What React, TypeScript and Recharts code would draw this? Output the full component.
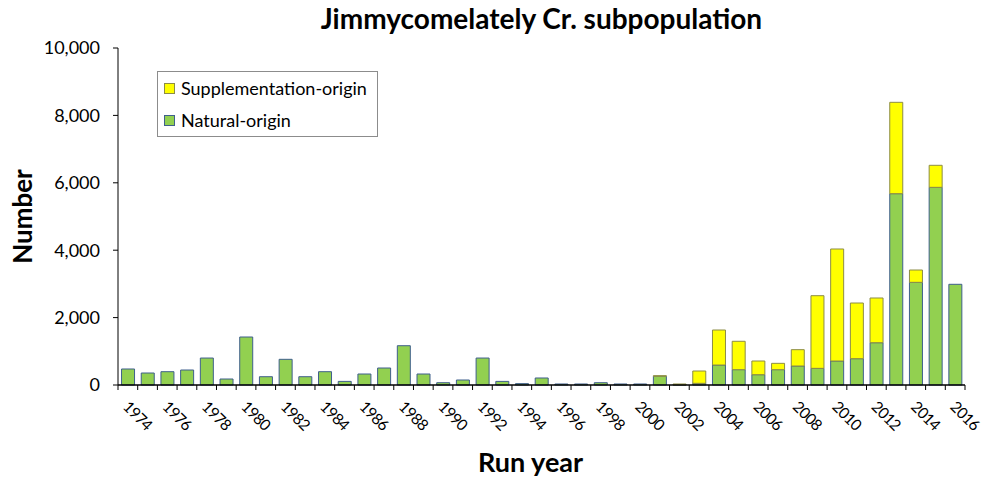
import React from 'react';
import { BarChart, Bar, XAxis, YAxis, Legend, Label } from 'recharts';

const years = [
  1974, 1975, 1976, 1977, 1978, 1979, 1980, 1981, 1982, 1983, 1984, 1985, 1986, 1987, 1988,
  1989, 1990, 1991, 1992, 1993, 1994, 1995, 1996, 1997, 1998, 1999, 2000, 2001, 2002, 2003,
  2004, 2005, 2006, 2007, 2008, 2009, 2010, 2011, 2012, 2013, 2014, 2015, 2016,
];

const naturalOrigin = [
  475, 356, 395, 445, 800, 178, 1424, 246, 762, 246, 395, 107, 326, 504, 1166,
  326, 68, 148, 800, 107, 40, 208, 30, 30, 68, 30, 30, 260, 5, 50,
  593, 455, 306, 455, 564, 494, 712, 781, 1255, 5677, 3047, 5866, 2988,
];

const supplementationOrigin = [
  0, 0, 0, 0, 0, 0, 0, 0, 0, 0, 0, 0, 0, 0, 0,
  0, 0, 0, 0, 0, 0, 0, 0, 0, 0, 0, 0, 15, 25, 365,
  1039, 842, 406, 188, 484, 2156, 3324, 1652, 1327, 2711, 365, 653, 0,
];

const yTicks = [0, 2000, 4000, 6000, 8000, 10000];

const data = years.map((year, i) => ({
  year,
  natural: naturalOrigin[i],
  supplementation: supplementationOrigin[i],
}));

const W = 983;
const H = 478;
const MARGIN = { top: 48, right: 18, left: 0, bottom: 0 };
const Y_AXIS_W = 118;
const X_AXIS_H = 93;
const TICK_SIZE = 5;
const TICK_MARGIN = 10;
const BAND = (W - Y_AXIS_W - MARGIN.right) / years.length;
const FONT = 'Lato, "Open Sans", sans-serif';

const GREEN = '#92D050';
const GREEN_EDGE = '#3F5F8C';
const YELLOW = '#FFFF00';
const YELLOW_EDGE = '#8C8C46';

// ticks sit on category boundaries, labels only on even years
const YearTick = (props: any) => {
  const { x, y, payload, index } = props;
  const axisY = y - TICK_SIZE - TICK_MARGIN;
  const left = x - BAND / 2;
  const last = index === years.length - 1;
  return (
    <g>
      <line x1={left} x2={left} y1={axisY} y2={axisY + TICK_SIZE} stroke="#000" />
      {last && (
        <line x1={x + BAND / 2} x2={x + BAND / 2} y1={axisY} y2={axisY + TICK_SIZE} stroke="#000" />
      )}
      {index % 2 === 0 && (
        <text
          transform={`translate(${x + 2},${y}) rotate(45)`}
          dy="0.71em"
          textAnchor="start"
          fontSize={15.5}
          letterSpacing={-0.6}
          fontFamily={FONT}
          fill="#000"
        >
          {payload.value}
        </text>
      )}
    </g>
  );
};

const LegendBox = () => {
  const items = [
    { label: 'Supplementation-origin', fill: YELLOW, edge: YELLOW_EDGE },
    { label: 'Natural-origin', fill: GREEN, edge: GREEN_EDGE },
  ];
  return (
    <div
      style={{
        width: 219,
        height: 64,
        border: '1px solid #8c8c8c',
        background: '#fff',
        fontFamily: FONT,
        fontSize: 18,
        color: '#000',
        boxSizing: 'content-box',
      }}
    >
      {items.map((it, i) => (
        <div
          key={it.label}
          style={{ position: 'absolute', left: 7, top: 8 + i * 32, display: 'flex', alignItems: 'center', height: 18 }}
        >
          <span
            style={{
              width: 9,
              height: 9,
              background: it.fill,
              border: `1px solid ${it.edge}`,
              marginRight: 6,
              display: 'inline-block',
            }}
          />
          <span>{it.label}</span>
        </div>
      ))}
    </div>
  );
};

export default function App() {
  return (
    <div style={{ position: 'absolute', top: 0, left: 0, width: W, height: H, background: '#fff' }}>
      <div
        style={{
          position: 'absolute',
          top: 2,
          left: Y_AXIS_W,
          width: W - Y_AXIS_W - MARGIN.right,
          textAlign: 'center',
          fontFamily: FONT,
          fontWeight: 700,
          fontSize: 28,
          lineHeight: 1.2,
          color: '#000',
          whiteSpace: 'nowrap',
        }}
      >
        Jimmycomelately Cr. subpopulation
      </div>
      <BarChart width={W} height={H} data={data} margin={MARGIN} barCategoryGap="18%">
        <XAxis
          dataKey="year"
          interval={0}
          height={X_AXIS_H}
          tickSize={TICK_SIZE}
          tickMargin={TICK_MARGIN}
          tickLine={false}
          tick={<YearTick />}
          axisLine={{ stroke: '#000', strokeWidth: 1.5 }}
        >
          <Label
            content={({ viewBox }: any) => (
              <text
                x={viewBox.x + viewBox.width / 2 - 11}
                y={viewBox.y + 76}
                textAnchor="middle"
                dominantBaseline="central"
                fontFamily={FONT}
                fontWeight={700}
                fontSize={27}
                fill="#000"
              >
                Run year
              </text>
            )}
          />
        </XAxis>
        <YAxis
          width={Y_AXIS_W}
          domain={[0, 10000]}
          ticks={yTicks}
          interval={0}
          tickSize={TICK_SIZE}
          tickMargin={13}
          tickFormatter={(v: number) => v.toLocaleString('en-US')}
          tick={{ fill: '#000', fontSize: 18, fontFamily: FONT }}
          tickLine={{ stroke: '#000' }}
          axisLine={{ stroke: '#000' }}
        >
          <Label
            content={({ viewBox }: any) => {
              const cx = viewBox.x + 22;
              const cy = viewBox.y + viewBox.height / 2;
              return (
                <text
                  x={cx}
                  y={cy}
                  transform={`rotate(-90,${cx},${cy})`}
                  textAnchor="middle"
                  dominantBaseline="central"
                  fontFamily={FONT}
                  fontWeight={700}
                  fontSize={26}
                  fill="#000"
                >
                  Number
                </text>
              );
            }}
          />
        </YAxis>
        <Legend
          layout="horizontal"
          align="center"
          verticalAlign="middle"
          content={<LegendBox />}
          wrapperStyle={{ top: 71, left: 157, width: 221, height: 66 }}
        />
        <Bar
          dataKey="natural"
          name="Natural-origin"
          stackId="a"
          fill={GREEN}
          stroke={GREEN_EDGE}
          strokeWidth={1}
          isAnimationActive={false}
        />
        <Bar
          dataKey="supplementation"
          name="Supplementation-origin"
          stackId="a"
          fill={YELLOW}
          stroke={YELLOW_EDGE}
          strokeWidth={1}
          isAnimationActive={false}
        />
      </BarChart>
    </div>
  );
}
